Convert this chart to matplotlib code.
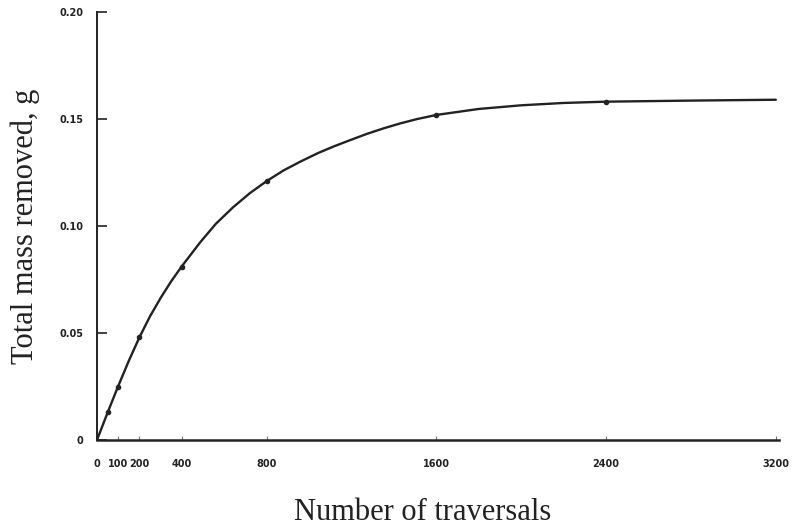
import numpy as np
import matplotlib
matplotlib.use("Agg")
import matplotlib.pyplot as plt

# curve
curve_x = [0, 50, 100, 150, 200, 250, 300, 350, 400, 485, 560, 642, 720, 800, 880, 957,
           1040, 1114, 1190, 1271, 1350, 1428, 1510, 1600, 1800, 2000, 2200, 2400, 2800, 3200]
curve_y = [0, 0.0128, 0.0252, 0.0370, 0.0480, 0.0578, 0.0664, 0.0742, 0.0812, 0.0922, 0.1010,
           0.1088, 0.1153, 0.1210, 0.1260, 0.1300, 0.1340, 0.1371, 0.1400, 0.1430, 0.1456,
           0.1479, 0.1500, 0.1519, 0.1547, 0.1564, 0.1575, 0.1581, 0.1586, 0.1590]

# measured points
point_x = [50, 100, 200, 400, 800, 1600, 2400]
point_y = [0.013, 0.025, 0.048, 0.081, 0.121, 0.152, 0.158]

xtick_vals = [0, 100, 200, 400, 800, 1600, 2400, 3200]
xtick_labels = ['0', '100', '200', '400', '800', '1600', '2400', '3200']
ytick_vals = [0, 0.05, 0.10, 0.15, 0.20]
ytick_labels = ['0', '0.05', '0.10', '0.15', '0.20']

ink = '#222222'

fig = plt.figure(figsize=(7.96, 5.31), dpi=100)
ax = fig.add_axes([97 / 796, 91 / 531, 682 / 796, 428 / 531])

ax.plot(curve_x, curve_y, color=ink, lw=1.7, solid_capstyle='round', solid_joinstyle='round')
ax.plot(point_x, point_y, 'o', color=ink, ms=3)

ax.set_xlim(0, 3215)
ax.set_ylim(0, 0.2)

for s in ['top', 'right']:
    ax.spines[s].set_visible(False)
ax.spines['left'].set_color(ink)
ax.spines['left'].set_linewidth(1.4)
ax.spines['bottom'].set_color(ink)
ax.spines['bottom'].set_linewidth(1.8)

ax.set_xticks(xtick_vals)
ax.set_xticklabels(xtick_labels, fontsize=7, fontweight='bold', color=ink)
ax.set_yticks(ytick_vals)
ax.set_yticklabels(ytick_labels, fontsize=7, fontweight='bold', color=ink)
ax.tick_params(axis='x', direction='in', length=3, width=0.8, color='#777777', pad=14)
ax.tick_params(axis='y', direction='in', length=7, width=1.2, color=ink, pad=10)

fig.text(423 / 796, 1 - 513 / 531, 'Number of traversals', family='Liberation Serif',
         fontsize=22, color=ink, ha='center', va='center')
fig.text(25 / 796, 1 - 226 / 531, 'Total mass removed, g', family='Liberation Serif',
         fontsize=22, color=ink, ha='center', va='center', rotation=90)

fig.savefig('out.png', dpi=100)
